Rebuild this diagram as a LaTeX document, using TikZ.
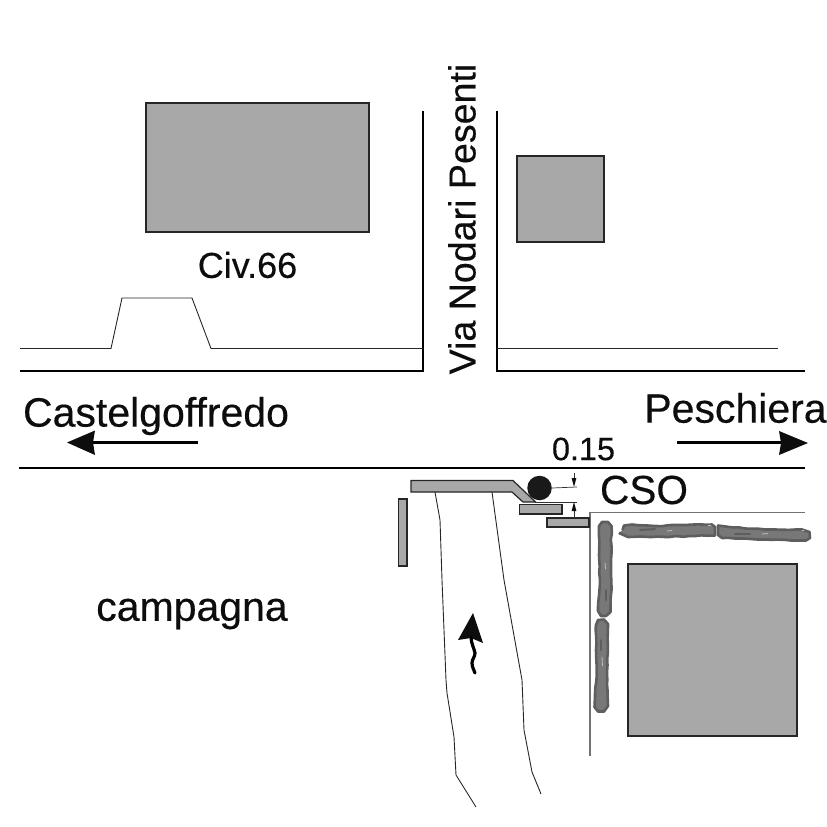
\documentclass[tikz,border=0pt]{standalone}
\usepackage{fontspec}
\usetikzlibrary{decorations.pathmorphing}
\setmainfont{Liberation Sans}[FakeBold=0.35]
\definecolor{bldg}{gray}{0.66}
\definecolor{edge}{gray}{0.15}
\definecolor{hedge}{gray}{0.47}
\definecolor{hedgeD}{gray}{0.37}
\definecolor{fleck}{gray}{0.72}
\tikzset{
  bldgbox/.style={fill=bldg,draw=edge,line width=1.2pt},
  roadline/.style={draw=black,line width=1.8pt},
  thinline/.style={draw=black!85,line width=0.9pt},
  wallline/.style={draw=black!55,line width=1.1pt},
  hedgeshape/.style={fill=hedge,draw=hedgeD,line width=2.6pt,line join=round,
    decorate,decoration={random steps,segment length=7pt,amplitude=0.5pt}},
  fleckline/.style={draw=fleck,line width=0.9pt,line cap=round},
  blotch/.style={draw=hedgeD,line width=2pt,line cap=round},
  dimline/.style={draw=black!80,line width=0.7pt},
  lbl/.style={inner sep=0pt,anchor=center,text=black!95},
  bigarrow/.style={draw=black,line width=2.3pt},
  headfill/.style={fill=black!95,draw=none},
}
\begin{document}
\begin{tikzpicture}[x=1pt,y=-1pt]
\pgfmathsetseed{42}
\useasboundingbox (0,0) rectangle (827,827);
% buildings
\path[bldgbox] (146,103) rectangle (369,232);
\path[bldgbox] (517,156) rectangle (604,242);
\path[bldgbox] (628,564) rectangle (797,736);
% roads
\draw[roadline] (423,111) -- (423,371) -- (20,371);
\draw[roadline] (497,111) -- (497,371) -- (805,371);
\draw[roadline] (19,468) -- (805,468);
% thin lines
\draw[thinline] (20,348.5) -- (111,348.5) -- (122,298) -- (192,298) -- (211,348.5) -- (423,348.5);
\draw[thinline] (497,348.5) -- (778,348.5);
% stream banks
\draw[thinline] (435,492) -- (440,520) -- (442,580) -- (446,680) -- (447,693) -- (454,737) -- (456,775) -- (476,807);
\draw[thinline] (492,492) -- (504,580) -- (522,680) -- (524,730) -- (532,772) -- (541,794);
% wall
\draw[wallline] (805,512.5) -- (590,512.5) -- (590,756);
% structures
\path[bldgbox] (411,480.5) -- (513,480.5) -- (535.5,502) -- (523,502) -- (512,492) -- (411,492) -- cycle;
\path[bldgbox] (398.5,499) rectangle (407,566);
\path[bldgbox] (519.5,504.5) rectangle (562,514);
\path[bldgbox] (547,518) rectangle (589,527);
% CSO manhole
\node[circle,fill=black!90,draw=none,minimum size=24.5pt,inner sep=0pt] (cso) at (539.5,488) {};
% dimension
\coordinate (d1) at (577,487);
\coordinate (d2) at (577,502);
\coordinate (d3) at (535,502);
\draw[dimline] (cso.east) -- (d1);
\draw[dimline] (d3) -- (d2);
\draw[dimline] (574,473) -- (574,480);
\path[headfill] (574,487) -- (571.6,478) -- (576.4,478) -- cycle;
\draw[dimline] (574,509) -- (574,518);
\path[headfill] (574,502) -- (571.6,511) -- (576.4,511) -- cycle;
% hedges
\path[hedgeshape] (622.5,530) -- (624,525.5) -- (632,524.5) -- (655,526) -- (685,525) -- (712,524.5) -- (715,527) -- (715,535.5) -- (690,536) -- (665,537) -- (640,536.5) -- (628,537) -- (623.5,535) -- cycle;
\path[hedgeshape] (718,525.5) -- (745,528.5) -- (775,529.5) -- (802,529.5) -- (809.5,532) -- (810,538) -- (806,540.5) -- (798,540.5) -- (765,539.5) -- (735,538.5) -- (722,538) -- (718,535) -- cycle;
\path[hedgeshape] (599,526) -- (602,522) -- (608,522) -- (611.5,526) -- (611,560) -- (611.5,590) -- (610.5,612) -- (606,616) -- (601,616) -- (598,611) -- (598.5,600) -- (600,580) -- (599,555) -- cycle;
\path[hedgeshape] (596,625) -- (598,620) -- (604,619.5) -- (608,624) -- (607.5,665) -- (607.5,690) -- (608,706) -- (604,711.5) -- (598,711.5) -- (594.5,707) -- (595,695) -- (596.5,680) -- (596,650) -- cycle;
\draw[blotch] (640,530) -- (655,529);
\draw[blotch] (735,534) -- (750,534);
\draw[blotch] (606,590) -- (606,600);
\draw[blotch] (601,640) -- (601,650);
\draw[fleckline] (667,531) -- (672,530.5);
\draw[fleckline] (708,525.5) -- (711,525.5);
\draw[fleckline] (762,534) -- (768,533.5);
\draw[fleckline] (802,530) -- (804,530);
\draw[fleckline] (605,563) -- (605.5,569);
\draw[fleckline] (602,657) -- (602.5,666);
% flow arrow
\path[headfill] (473,613) -- (458,640) -- (471,638) -- (483,643) -- cycle;
\draw[black,line width=3.2pt,line cap=round] (471,637) .. controls (471,643) and (474,648) .. (475,653) .. controls (475,657) and (472,659) .. (472,663) .. controls (472,667) and (474,670) .. (475,673);
% direction arrows
\coordinate (wa) at (90,442.5);
\coordinate (wb) at (198,442.5);
\coordinate (ea) at (677,442.5);
\coordinate (eb) at (790,442.5);
\draw[bigarrow] (wa) -- (wb);
\path[headfill] (67,442.5) -- (95,430.5) -- (93,442.5) -- (95,455) -- cycle;
\draw[bigarrow] (ea) -- (eb);
\path[headfill] (808,443) -- (779,431) -- (781,443) -- (779,455) -- cycle;
% labels
\node[lbl,font=\fontsize{36}{36}\selectfont] (civ) at (247.5,265) {Civ.66};
\node[lbl,font=\fontsize{37.6}{38}\selectfont,rotate=90] (via) at (462,219) {Via Nodari Pesenti};
\node[lbl,font=\fontsize{41}{41}\selectfont] (cas) at (156,416) {Castelgoffredo};
\node[lbl,font=\fontsize{41}{41}\selectfont] (pes) at (735.5,408) {Peschiera};
\node[lbl,font=\fontsize{32.4}{33}\selectfont] (val) at (583.5,449) {0.15};
\node[lbl,font=\fontsize{40.6}{41}\selectfont] (csol) at (644,490) {CSO};
\node[lbl,font=\fontsize{41}{41}\selectfont] (cam) at (192,614) {campagna};
\end{tikzpicture}
\end{document}
